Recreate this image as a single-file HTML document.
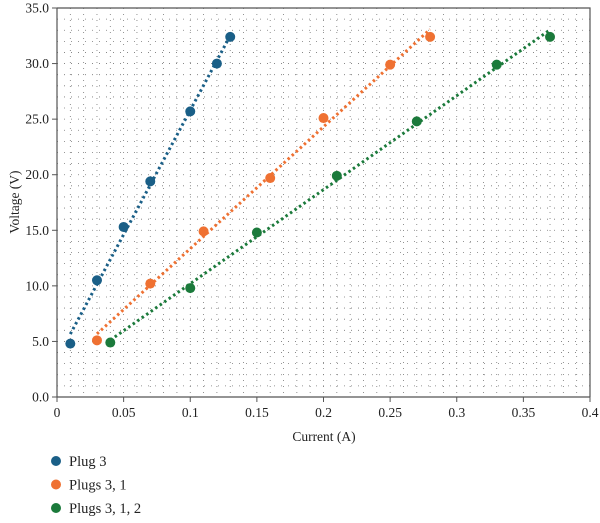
<!DOCTYPE html>
<html><head><meta charset="utf-8"><style>
body{margin:0;background:#fff;width:600px;height:518px;overflow:hidden}
text{font-family:"Liberation Serif",serif;fill:#222}
</style></head><body>
<svg id="c" width="600" height="518"></svg>
<script>
const seriesNames=["Plug 3","Plugs 3, 1","Plugs 3, 1, 2"];
const plug3X=[0.01,0.03,0.05,0.07,0.10,0.12,0.13];
const plug3Y=[4.8,10.5,15.3,19.4,25.7,30.0,32.4];
const plug31X=[0.03,0.07,0.11,0.16,0.20,0.25,0.28];
const plug31Y=[5.1,10.2,14.9,19.7,25.1,29.9,32.4];
const plug312X=[0.04,0.10,0.15,0.21,0.27,0.33,0.37];
const plug312Y=[4.9,9.8,14.8,19.9,24.8,29.9,32.4];
const xTicks=["0","0.05","0.1","0.15","0.2","0.25","0.3","0.35","0.4"];
const yTicks=["0.0","5.0","10.0","15.0","20.0","25.0","30.0","35.0"];
const colors=["#1a5f87","#ef7132","#1b7a3b"];
const X0=57,X1=590,Y0=397,Y1=8;
const sx=v=>X0+v/0.4*(X1-X0), sy=v=>Y0-v/35*(Y0-Y1);
const svg=document.getElementById('c');const NS="http://www.w3.org/2000/svg";
function mk(t,a,p){const e=document.createElementNS(NS,t);for(const k in a)e.setAttribute(k,a[k]);(p||svg).appendChild(e);return e;}
const grid=mk('g',{});


for(let i=1;i<35;i++){mk('line',{x1:X0,x2:X1,y1:sy(i),y2:sy(i),stroke:'#777','stroke-width':0.8,'stroke-dasharray':'1 6'},grid);}
for(let i=1;i<40;i++){mk('line',{x1:sx(i*0.01),x2:sx(i*0.01),y1:Y1,y2:Y0,stroke:'#777','stroke-width':0.8,'stroke-dasharray':'1 5'},grid);}
const ax=mk('path',{d:`M${X0} ${Y1}H${X1}V${Y0}M${X0} ${Y1}V${Y0}H${X1}`,stroke:'#555','stroke-width':1.2,fill:'none'});


xTicks.forEach((t,i)=>{const v=i*0.05;mk('line',{x1:sx(v),x2:sx(v),y1:Y0,y2:Y0+5,stroke:'#555'});
const e=mk('text',{x:sx(v),y:Y0+20,'text-anchor':'middle','font-size':13.5});e.textContent=t;

});
yTicks.forEach((t,i)=>{const v=i*5;mk('line',{x1:X0-5,x2:X0,y1:sy(v),y2:sy(v),stroke:'#555'});
const e=mk('text',{x:X0-8,y:sy(v)+4.5,'text-anchor':'end','font-size':13.5});e.textContent=t;

});
const xt=mk('text',{x:324,y:441,'text-anchor':'middle','font-size':13.5});xt.textContent="Current (A)";


const yt=mk('text',{x:0,y:0,'text-anchor':'middle','font-size':13.5,transform:'translate(19,202) rotate(-90)'});yt.textContent="Voltage (V)";


const data=[[plug3X,plug3Y],[plug31X,plug31Y],[plug312X,plug312Y]];
data.forEach(([xs,ys],k)=>{
const n=xs.length,mx=xs.reduce((a,b)=>a+b)/n,my=ys.reduce((a,b)=>a+b)/n;
let num=0,den=0;xs.forEach((x,i)=>{num+=(x-mx)*(ys[i]-my);den+=(x-mx)**2;});
const b=num/den,a=my-b*mx,xa=xs[0],xb=xs[n-1];
const tl=mk('line',{x1:sx(xa),y1:sy(a+b*xa),x2:sx(xb),y2:sy(a+b*xb),stroke:colors[k],'stroke-width':3,'stroke-dasharray':'2.5 3'});


xs.forEach((x,i)=>{const c=mk('circle',{cx:sx(x),cy:sy(ys[i]),r:5,fill:colors[k]});

});
const g=mk('g',{});


mk('circle',{cx:56,cy:461+k*23.5,r:5,fill:colors[k]},g);
const t=mk('text',{x:69,y:466+k*23.5,'font-size':14.5},g);t.textContent=seriesNames[k];
});
</script>
</body></html>
